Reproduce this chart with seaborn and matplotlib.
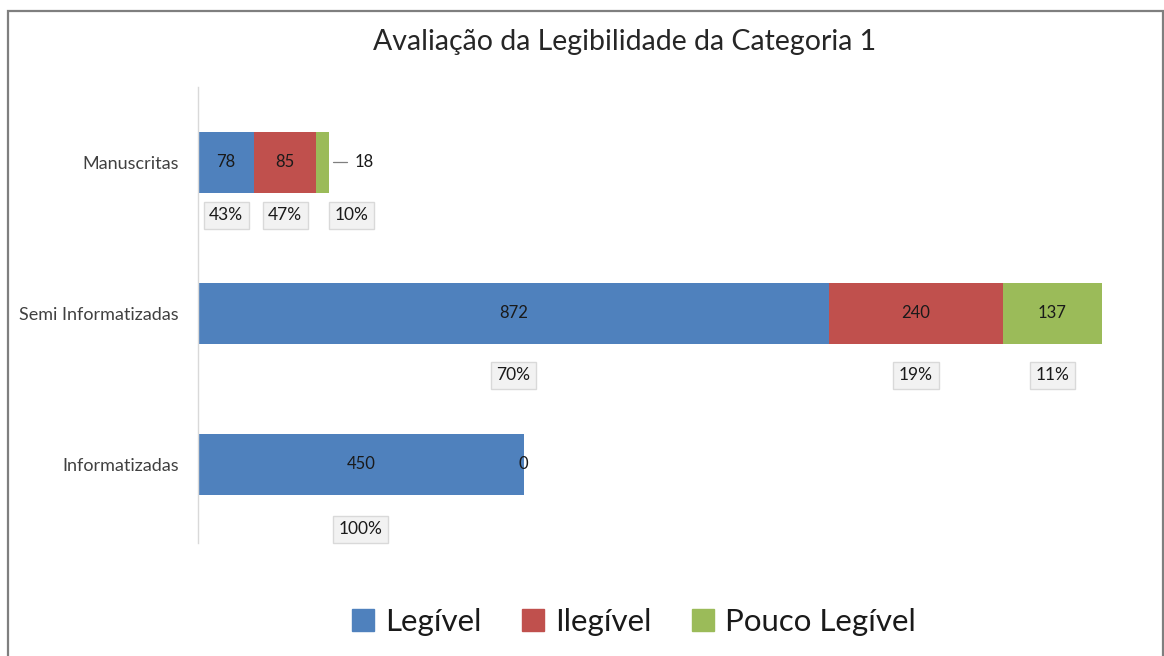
import matplotlib
matplotlib.use("Agg")
import matplotlib.pyplot as plt
import seaborn as sns
import pandas as pd
import numpy as np
from matplotlib.patches import Rectangle

categories = ["Manuscritas", "Semi Informatizadas", "Informatizadas"]
series_names = ["Legível", "Ilegível", "Pouco Legível"]
legivel = [78, 872, 450]
ilegivel = [85, 240, 0]
pouco = [18, 137, 0]
title = "Avaliação da Legibilidade da Categoria 1"

colors = ["#4f81bd", "#c0504d", "#9bbb59"]
FONT = ["Lato", "DejaVu Sans"]

sns.set_theme(style="white")
plt.rcParams["font.family"] = FONT

fig = plt.figure(figsize=(11.64, 6.56), dpi=100)
ax = fig.add_axes([198 / 1164, 1 - 543 / 656, (1102 - 198) / 1164, (543 - 87) / 656])

vals = np.array([legivel, ilegivel, pouco], dtype=float)  # series x category
cum = np.cumsum(vals, axis=0)

# stacked bars: draw cumulative totals from largest down
for i in [2, 1, 0]:
    df = pd.DataFrame({"cat": categories, "val": cum[i]})
    sns.barplot(data=df, x="val", y="cat", order=categories, color=colors[i],
                orient="h", width=0.4, saturation=1, ax=ax, linewidth=0)

if ax.get_legend() is not None:
    ax.get_legend().remove()

ax.set_xlim(0, cum[-1].max())
ax.set_ylim(2.52, -0.5)
ax.set_xlabel("")
ax.set_ylabel("")
ax.set_xticks([])
for s in ["top", "right", "bottom"]:
    ax.spines[s].set_visible(False)
ax.spines["left"].set_color("#d9d9d9")
ax.spines["left"].set_linewidth(1)
ax.tick_params(axis="y", length=0, pad=14, labelsize=13, labelcolor="#404040")

totals = vals.sum(axis=0)
pct_offsets = [0.35, 0.41, 0.43]
for j in range(len(categories)):
    for i in range(3):
        v = vals[i, j]
        left = cum[i, j] - v
        center = left + v / 2
        # value labels
        if v > 30:
            ax.text(center, j, f"{int(v)}", ha="center", va="center",
                    fontsize=12, color="#1a1a1a")
        elif v > 0:
            # small segment: label outside with leader line
            ax.plot([cum[i, j] + 6, cum[i, j] + 25], [j, j], color="#7f7f7f", lw=0.9)
            ax.text(cum[i, j] + 35, j, f"{int(v)}", ha="left", va="center",
                    fontsize=12, color="#1a1a1a")
        elif i == 1 and totals[j] > 0 and vals[1:, j].sum() == 0:
            ax.text(cum[i, j], j, "0", ha="center", va="center",
                    fontsize=12, color="#1a1a1a")
        # percentage labels
        if v > 0:
            px = center
            if v < 30:
                px = center + 40
            pct = round(100 * v / totals[j])
            ax.text(px, j + pct_offsets[j], f"{pct}%", ha="center", va="center",
                    fontsize=12.5, color="#1a1a1a",
                    bbox=dict(boxstyle="square,pad=0.32", fc="#f2f2f2", ec="#d9d9d9", lw=1))

fig.text(625 / 1164, 1 - 42 / 656, title, ha="center", va="center",
         fontsize=20.5, color="#262626")

handles = [Rectangle((0, 0), 1, 1, color=c) for c in colors]
fig.legend(handles, series_names, loc="center", bbox_to_anchor=(634 / 1164, 1 - 622 / 656),
           ncol=3, frameon=False, fontsize=22.5, handlelength=0.7, handleheight=0.7,
           handletextpad=0.35, columnspacing=1.3, labelcolor="#1a1a1a")

fig.patches.append(Rectangle((8 / 1164, -0.02), (1163 - 8) / 1164, (656 - 11) / 656 + 0.02,
                             transform=fig.transFigure, fill=False, ec="#7f7f7f", lw=1.6))

fig.savefig("out.png", dpi=100, facecolor="white")
